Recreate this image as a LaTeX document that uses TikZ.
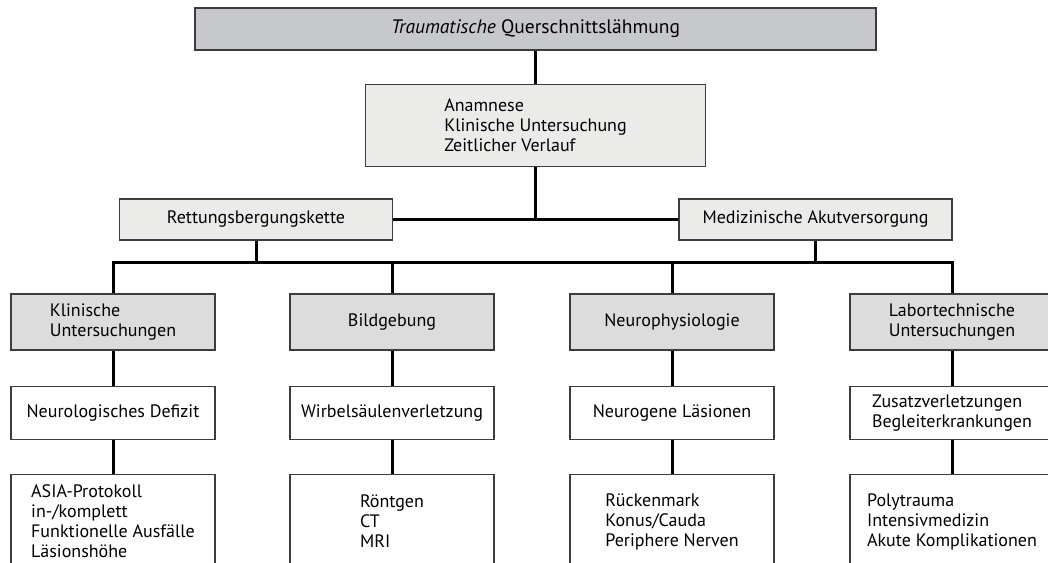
\documentclass[tikz,border=0pt]{standalone}
\usepackage{fontspec}
\setmainfont{PT Sans}
\usepackage{tikz}
\usetikzlibrary{positioning}
\definecolor{headgray}{RGB}{199,200,204}
\definecolor{palegray}{RGB}{235,235,233}
\definecolor{boxgray}{RGB}{220,220,220}
\definecolor{rimgray}{RGB}{60,60,60}

\begin{document}
\begin{tikzpicture}[x=1pt, y=-1pt,
        box/.style={rectangle, draw=rimgray, line width=1.3pt, inner sep=0pt, align=left, font=\fontsize{18}{20}\selectfont},
        headbox/.style={box, fill=headgray, minimum width=681pt, minimum height=42pt, font=\fontsize{19.5}{22}\selectfont},
        stepbox/.style={box, fill=palegray, minimum width=273pt, minimum height=41pt},
        groupbox/.style={box, fill=boxgray, minimum width=204pt, minimum height=56pt},
        findbox/.style={box, fill=white, minimum width=204pt, minimum height=53pt},
        listbox/.style={box, fill=white, minimum width=204pt, minimum height=94pt},
        link/.style={draw=black, line width=3pt},
        every node/.style={node distance=34pt}
        ]
    \useasboundingbox (0,0) rectangle (1048,562);
    \clip (0,0) rectangle (1048,562);

    \node[headbox] (trauma) at (535.5,29) {\textit{Traumatische} Querschnittslähmung};
    \node[stepbox, minimum width=340pt, minimum height=82pt, below=33pt of trauma] (anamnese) {Anamnese\\Klinische Untersuchung\\Zeitlicher Verlauf};
    \node[stepbox] (rettung) at (256,219.5) {Rettungsbergungskette};
    \node[stepbox] (akut) at (815.5,219.5) {Medizinische Akutversorgung};
    \coordinate (bus) at (0,262);

    \path[link] (trauma) -- (anamnese);
    \path[link] (rettung) -- (akut);
    \path[link] (anamnese) -- (anamnese |- rettung);
    \path[link] (rettung) -- (rettung |- bus);
    \path[link] (akut) -- (akut |- bus);

    % one column per kind of examination
    \foreach \col/\x/\grp/\finding/\detail in {
        klin/113/{Klinische\\Untersuchungen}/{Neurologisches Defizit}/{ASIA-Protokoll\\in-/komplett\\Funktionelle Ausfälle\\Läsionshöhe},
        bild/392/{Bildgebung}/{Wirbelsäulenverletzung}/{Röntgen\\CT\\MRI},
        neuro/672/{Neurophysiologie}/{Neurogene Läsionen}/{Rückenmark\\Konus/Cauda\\Periphere Nerven},
        labor/952/{Labortechnische\\Untersuchungen}/{Zusatzverletzungen\\Begleiterkrankungen}/{Polytrauma\\Intensivmedizin\\Akute Komplikationen}} {
        \node[groupbox] (\col-group) at (\x,322) {\grp};
        \node[findbox, below=35pt of \col-group] (\col-find) {\finding};
        \node[listbox, below=of \col-find] (\col-list) {\detail};
        \path[link] (\col-group) -- (\col-find);
        \path[link] (\col-find) -- (\col-list);
    }

    \path[link] (klin-group.north) -- (klin-group.north |- bus) -- (labor-group.north |- bus) -- (labor-group.north);
    \path[link] (bild-group.north |- bus) -- (bild-group.north);
    \path[link] (neuro-group.north |- bus) -- (neuro-group.north);
\end{tikzpicture}
\end{document}
